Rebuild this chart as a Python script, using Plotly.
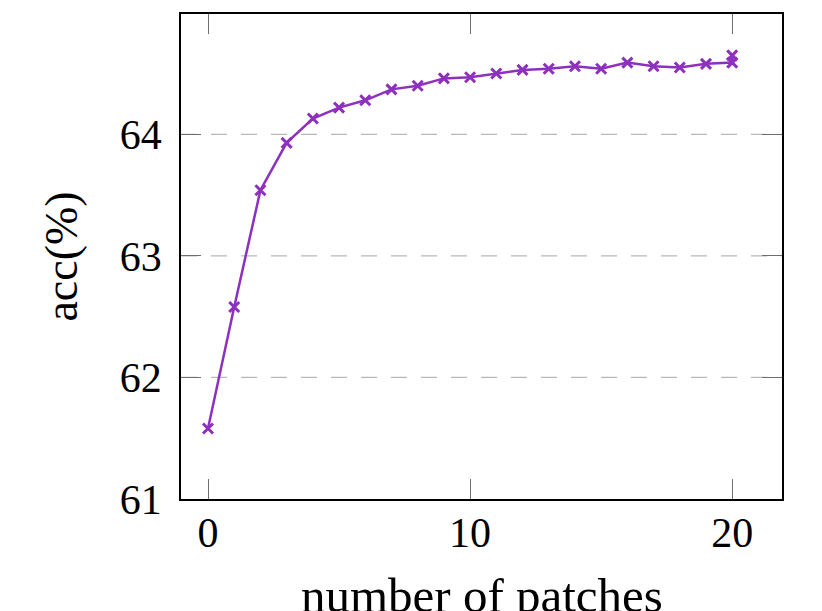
import plotly.graph_objects as go

patches = [0, 1, 2, 3, 4, 5, 6, 7, 8, 9, 10, 11, 12, 13, 14, 15, 16, 17, 18, 19, 20, 20]
acc = [61.58, 62.58, 63.54, 63.93, 64.13, 64.22, 64.28, 64.37, 64.40, 64.46, 64.47,
       64.50, 64.53, 64.54, 64.56, 64.54, 64.59, 64.56, 64.55, 64.58, 64.59, 64.65]

x_ticks = [0, 10, 20]
y_ticks = [61, 62, 63, 64]
grid_lines = [62, 63, 64]
x_title = "number of patches"
y_title = "acc(%)"

purple = "rgb(142,48,190)"
font_family = "Liberation Serif"

fig = go.Figure()

for g in grid_lines:
    fig.add_shape(type="line", xref="paper", yref="y", x0=0, x1=1, y0=g, y1=g,
                  line=dict(color="rgb(185,185,185)", width=1.3, dash="16px,14px"),
                  layer="below")

fig.add_trace(go.Scatter(
    x=patches, y=acc, mode="lines+markers",
    line=dict(color=purple, width=2.5),
    marker=dict(symbol="x-thin", size=10, line=dict(color=purple, width=3), color=purple),
    showlegend=False,
))

axis_common = dict(
    showgrid=False, zeroline=False, showline=True, linecolor="black", linewidth=1.5,
    mirror="allticks", ticks="inside", ticklen=20, tickcolor="rgb(110,110,110)", tickwidth=1,
    tickfont=dict(family=font_family, size=42, color="black"), automargin=False,
)

fig.update_xaxes(range=[-1.03, 21.9], tickvals=x_ticks, ticktext=[str(t) for t in x_ticks],
                 ticklabelstandoff=-4, **axis_common)
fig.update_yaxes(range=[61, 64.99], tickvals=y_ticks, ticktext=[str(t) for t in y_ticks],
                 title=dict(text=y_title, font=dict(family=font_family, size=46, color="black"), standoff=28),
                 ticklabelstandoff=9, **axis_common)

fig.add_annotation(text=x_title, xref="paper", yref="paper", x=0.5, y=0,
                   xanchor="center", yanchor="top", yshift=-67, showarrow=False,
                   font=dict(family=font_family, size=49, color="black"))

fig.update_layout(
    width=814, height=603,
    margin=dict(l=173, r=40, t=6, b=112),
    plot_bgcolor="white", paper_bgcolor="white",
)

fig.write_html("out.html")
